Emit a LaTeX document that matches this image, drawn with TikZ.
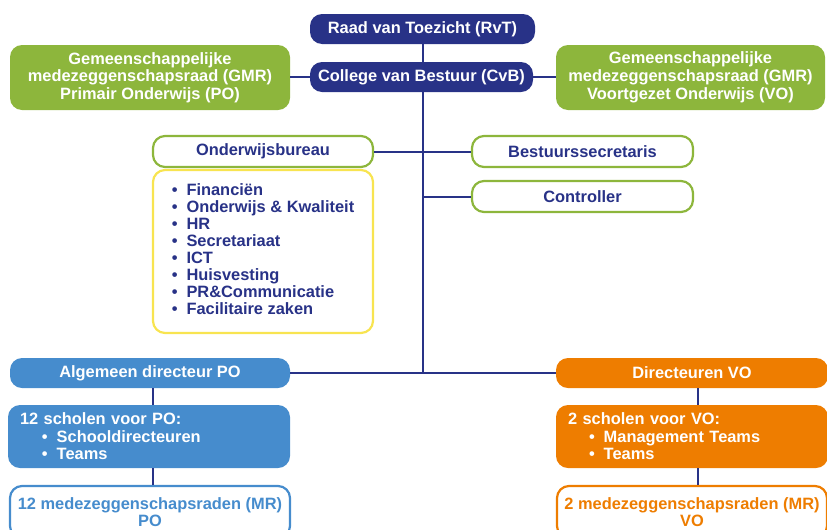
\documentclass[tikz,border=0pt]{standalone}
\usepackage{fontspec}
\setmainfont{Liberation Sans}
\newlength\px
\setlength\px{0.75pt}
\definecolor{navy}{RGB}{40,50,135}
\definecolor{lgreen}{RGB}{141,182,60}
\definecolor{sblue}{RGB}{70,140,205}
\definecolor{sorange}{RGB}{238,125,0}
\definecolor{syellow}{RGB}{248,228,80}
\begin{document}
\begin{tikzpicture}[x=1\px,y=-1\px,
  base/.style={rounded corners=12\px, inner sep=0pt, font=\fontsize{12.3}{13.2}\selectfont\bfseries, align=center},
  navybox/.style={base, fill=navy, text=white},
  greenbox/.style={base, fill=lgreen, text=white, font=\fontsize{12.3}{13.3}\selectfont\bfseries},
  wgreen/.style={base, draw=lgreen, line width=2.2\px, fill=white, text=navy},
  bluebox/.style={base, fill=sblue, text=white},
  orangebox/.style={base, fill=sorange, text=white},
  conn/.style={draw=navy, line width=2\px}]
\useasboundingbox (0,0) rectangle (827,529);
\clip (0,0) rectangle (827,529);
% nodes
\node[navybox, minimum width=225\px, minimum height=30\px] (rvt) at (422.5,29) {Raad van Toezicht (RvT)};
\node[navybox, minimum width=223\px, minimum height=30\px] (cvb) at (421.5,77) {College van Bestuur (CvB)};
\node[greenbox, minimum width=280\px, minimum height=65\px] (gmrpo) at (150,77.5) {Gemeenschappelijke\\medezeggenschapsraad (GMR)\\Primair Onderwijs (PO)};
\node[greenbox, minimum width=269\px, minimum height=65\px] (gmrvo) at (690.5,77.5) {Gemeenschappelijke\\medezeggenschapsraad (GMR)\\Voortgezet Onderwijs (VO)};
\node[wgreen, minimum width=220\px, minimum height=31\px] (ob) at (263,151.5) {Onderwijsbureau};
\node[wgreen, draw=syellow, minimum width=220\px, minimum height=163\px] (list) at (263,251.5)
  {\fontsize{12.3}{12.75}\selectfont\begin{tabular}{@{}l@{\hspace{9\px}}l@{}}
  \textbullet & Financiën\\
  \textbullet & Onderwijs \& Kwaliteit\\
  \textbullet & HR\\
  \textbullet & Secretariaat\\
  \textbullet & ICT\\
  \textbullet & Huisvesting\\
  \textbullet & PR\&Communicatie\\
  \textbullet & Facilitaire zaken
  \end{tabular}};
\node[wgreen, minimum width=221\px, minimum height=31\px] (bs) at (582.5,151.5) {Bestuurssecretaris};
\node[wgreen, minimum width=221\px, minimum height=31\px] (ctrl) at (582.5,196.5) {Controller};
\node[bluebox, minimum width=280\px, minimum height=30\px] (adpo) at (150,373) {Algemeen directeur PO};
\node[bluebox, minimum width=282\px, minimum height=63\px, text width=258\px, align=left, inner xsep=12\px] (schpo) at (149,436.5)
  {12 scholen voor PO:\\\hspace*{22\px}\textbullet\hspace{9\px}Schooldirecteuren\\\hspace*{22\px}\textbullet\hspace{9\px}Teams};
\node[base, draw=sblue, line width=2.2\px, fill=white, text=sblue, minimum width=280\px, minimum height=52\px] (mrpo) at (150,512)
  {12 medezeggenschapsraden (MR)\\PO};
\node[orangebox, minimum width=272\px, minimum height=30\px] (dvo) at (692,373) {Directeuren VO};
\node[orangebox, minimum width=272\px, minimum height=63\px, text width=248\px, align=left, inner xsep=12\px] (schvo) at (692,436.5)
  {2 scholen voor VO:\\\hspace*{21\px}\textbullet\hspace{9\px}Management Teams\\\hspace*{21\px}\textbullet\hspace{9\px}Teams};
\node[base, draw=sorange, line width=2.2\px, fill=white, text=sorange, minimum width=270\px, minimum height=52\px] (mrvo) at (692,512)
  {2 medezeggenschapsraden (MR)\\VO};
% junction coordinates
\coordinate (jb) at (423,373);
\coordinate (jc) at (423,196.5);
% connectors
\draw[conn] (rvt.south -| jb) -- (cvb.north -| jb);
\draw[conn] (cvb.south -| jb) -- (jb);
\draw[conn] (gmrpo.east |- cvb.west) -- (cvb.west);
\draw[conn] (cvb.east) -- (gmrvo.west |- cvb.east);
\draw[conn] (ob.east) -- (bs.west);
\draw[conn] (jc) -- (ctrl.west);
\draw[conn] (adpo.east) -- (dvo.west);
\draw[conn] (adpo.south -| 153,0) -- (schpo.north -| 153,0);
\draw[conn] (schpo.south -| 153,0) -- (mrpo.north -| 153,0);
\draw[conn] (dvo.south -| 698,0) -- (schvo.north -| 698,0);
\draw[conn] (schvo.south -| 698,0) -- (mrvo.north -| 698,0);
\end{tikzpicture}
\end{document}
